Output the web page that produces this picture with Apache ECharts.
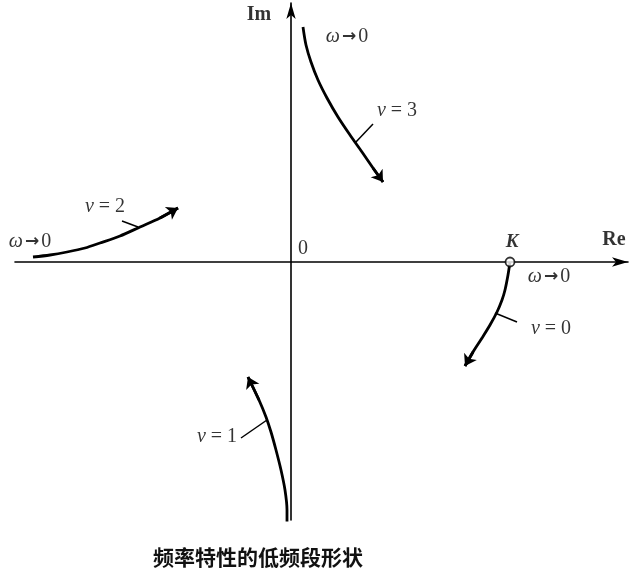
<!DOCTYPE html>
<html><head><meta charset="utf-8">
<script src="https://cdn.jsdelivr.net/npm/echarts@6/dist/echarts.min.js"></script>
<style>html,body{margin:0;padding:0;background:#fff}#c{width:633px;height:582px}</style>
</head><body><div id="c"></div>
<script>
// Curve points [Re, Im] (arbitrary units, origin at axis crossing)
const nu3 = [[1.2,23.5],[1.5,21.7],[2.0,20.0],[2.7,18.2],[3.6,16.4],[4.7,14.5],[5.9,12.7],[7.1,11.0],[8.2,9.4],[9.2,8.0]];
const nu2 = [[-25.8,0.5],[-24.1,0.7],[-22.4,1.0],[-20.6,1.4],[-19.1,1.9],[-17.1,2.6],[-15.1,3.5],[-13.1,4.4],[-11.3,5.4]];
const nu0 = [[21.9,0],[21.7,-1.3],[21.4,-2.8],[21.1,-3.8],[20.6,-5.0],[19.9,-6.3],[19.1,-7.6],[18.2,-9.0],[17.4,-10.4]];
const nu1 = [[-0.4,-26.8],[-0.4,-24.8],[-0.6,-22.8],[-1.0,-20.8],[-1.5,-18.8],[-2.0,-17.0],[-2.5,-15.5],[-3.2,-13.8],[-4.3,-11.5]];
const curves = [nu3, nu2, nu0, nu1];
// leader ticks from curve to label
const leaders = [[[6.4,11.9],[8.2,13.8]],[[-15.3,3.5],[-16.9,4.1]],[[20.4,-5.1],[22.6,-6.0]],[[-2.4,-15.8],[-5.0,-17.6]]];
const kPoint = [21.9, 0];
// text labels [x, y, text]
const labels = [
  [5.6,22.5,'{i|ω}{a|→}{n|0}'],
  [10.6,15.1,'{i|ν}{n| = 3}'],
  [-18.6,5.5,'{i|ν}{n| = 2}'],
  [-26.1,2.0,'{i|ω}{a|→}{n|0}'],
  [1.2,1.3,'{n|0}'],
  [22.1,2.0,'{k|K}'],
  [25.8,-1.5,'{i|ω}{a|→}{n|0}'],
  [26.0,-6.7,'{i|ν}{n| = 0}'],
  [-7.4,-17.5,'{i|ν}{n| = 1}'],
  [-4.0,-26.4,'{i|ω}{n| = 0}'],
  [-3.2,24.7,'{b|Im}'],
  [32.3,2.2,'{b|Re}']
];
const title = '频率特性的低频段形状';

const serif = '"Liberation Serif","DejaVu Serif",serif';
const axisCommon = {
  type:'value', axisTick:{show:false}, axisLabel:{show:false}, splitLine:{show:false},
  axisLine:{show:true,onZero:true,symbol:['none','arrow'],symbolSize:[7,16],lineStyle:{color:'#000',width:1.6}}
};
const series = [];
curves.forEach(c => {
  series.push({type:'line', data:c, smooth:0.3, showSymbol:false, silent:true,
    lineStyle:{color:'#000', width:2.8}});
  series.push({type:'lines', coordinateSystem:'cartesian2d', silent:true,
    symbol:['none','arrow'], symbolSize:11,
    lineStyle:{color:'#000', width:2.8, opacity:1},
    data:[{coords:c.slice(-2)}]});
});
series.push({type:'lines', coordinateSystem:'cartesian2d', silent:true,
  lineStyle:{color:'#000', width:1.5, opacity:1},
  data: leaders.map(l => ({coords:l}))});
series.push({type:'scatter', data:[kPoint], symbol:'circle', symbolSize:9, silent:true,
  itemStyle:{color:'#fff', borderColor:'#000', borderWidth:1.8}, z:5});
series.push({type:'scatter', symbolSize:0, silent:true,
  data: labels.map(l => ({value:[l[0],l[1]], name:l[2]})),
  label:{show:true, position:'inside', formatter:p => p.name, color:'#000',
    fontFamily:serif, fontSize:19,
    rich:{i:{fontStyle:'italic', fontFamily:serif, fontSize:20, color:'#000'},
          n:{fontFamily:serif, fontSize:20, color:'#000'},
          a:{fontFamily:'"DejaVu Sans"', fontWeight:'bold', fontSize:17, color:'#000', padding:[0,2,0,2]},
          k:{fontStyle:'italic', fontWeight:'bold', fontFamily:serif, fontSize:19, color:'#000'},
          b:{fontFamily:serif, fontWeight:'bold', fontSize:20, color:'#000'}}}});

const chart = echarts.init(document.getElementById('c'));
chart.setOption({
  animation:false,
  backgroundColor:'#fff',
  title:{text:title, left:148, top:542,
    textStyle:{fontFamily:'"Noto Sans CJK SC"', fontWeight:'bold', fontSize:21, color:'#111'}},
  grid:{left:15, right:5, top:3, bottom:62},
  xAxis:Object.assign({min:-27.6, max:33.7}, axisCommon),
  yAxis:Object.assign({min:-25.8, max:25.9}, axisCommon),
  series: series
});
</script></body></html>
